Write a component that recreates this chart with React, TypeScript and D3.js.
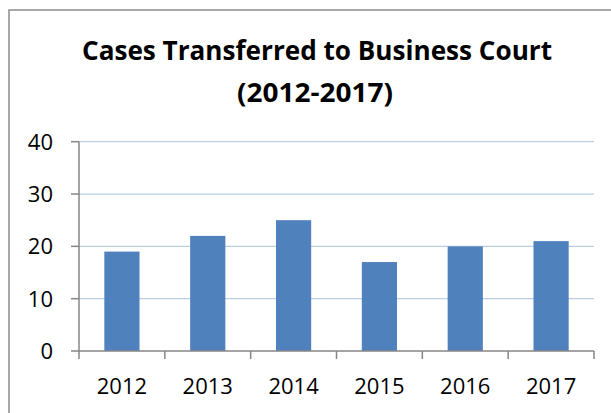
import React from 'react';
import * as d3 from 'd3';

const years = ['2012', '2013', '2014', '2015', '2016', '2017'];
const cases = [19, 22, 25, 17, 20, 21];
const yTicks = [0, 10, 20, 30, 40];

const W = 611;
const H = 413;

const App = () => {
  const x = d3.scaleBand<string>().domain(years).range([79, 594]).paddingInner(0.59).paddingOuter(0.295);
  const xTicks = d3.scaleBand<string>().domain(years).range([79, 594]);
  const y = d3.scaleLinear().domain([0, 40]).range([351, 141.7]);

  const font = "'Open Sans', sans-serif";

  return (
    <svg width={W} height={H} style={{ position: 'absolute', left: 0, top: 0, background: 'white' }}>
      {/* chart border (only top and left are in frame) */}
      <rect x={9} y={10} width={W + 20} height={H + 20} fill="white" stroke="#8c8c8c" strokeWidth={1.5} />

      <text x={317} y={60} textAnchor="middle" fontFamily={font} fontWeight="bold" fontSize={26}
        textLength={470} lengthAdjust="spacingAndGlyphs">Cases Transferred to Business Court</text>
      <text x={315} y={102} textAnchor="middle" fontFamily={font} fontWeight="bold" fontSize={26}
        textLength={156} lengthAdjust="spacingAndGlyphs">(2012-2017)</text>

      {/* gridlines */}
      {yTicks.filter(t => t > 0).map(t => (
        <line key={'g' + t} x1={79} x2={594} y1={y(t)} y2={y(t)} stroke="#b9cde5" strokeWidth={1.3} />
      ))}

      {/* bars */}
      {years.map((yr, i) => (
        <rect key={yr} x={x(yr)} y={y(cases[i])} width={x.bandwidth()} height={y(0) - y(cases[i])} fill="#4f81bd" />
      ))}

      {/* y axis */}
      <line x1={79} x2={79} y1={y(40)} y2={y(0)} stroke="#868686" strokeWidth={1.5} />
      {yTicks.map(t => (
        <g key={'y' + t}>
          <line x1={71} x2={79} y1={y(t)} y2={y(t)} stroke="#868686" strokeWidth={1.5} />
          <text x={53} y={y(t) + 8} textAnchor="end" fontFamily={font} fontSize={22} fill="#000">{t}</text>
        </g>
      ))}

      {/* x axis */}
      <line x1={79} x2={594} y1={y(0)} y2={y(0)} stroke="#868686" strokeWidth={1.5} />
      {years.map(yr => (
        <line key={'t' + yr} x1={xTicks(yr)} x2={xTicks(yr)} y1={y(0)} y2={y(0) + 8} stroke="#868686" strokeWidth={1.5} />
      ))}
      <line x1={594} x2={594} y1={y(0)} y2={y(0) + 8} stroke="#868686" strokeWidth={1.5} />
      {years.map(yr => (
        <text key={'l' + yr} x={(xTicks(yr) as number) + xTicks.bandwidth() / 2} y={394} textAnchor="middle"
          fontFamily={font} fontSize={22} fill="#000">{yr}</text>
      ))}
    </svg>
  );
};

export default App;
